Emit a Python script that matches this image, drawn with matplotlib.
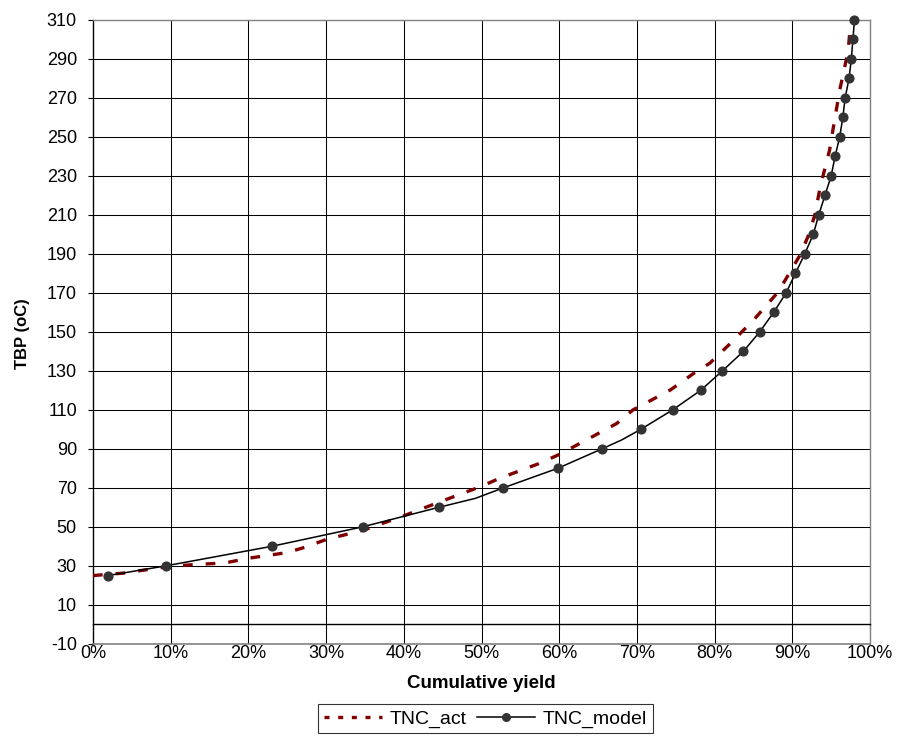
import matplotlib
matplotlib.use("Agg")
import matplotlib.pyplot as plt
from matplotlib.ticker import PercentFormatter
from matplotlib.lines import Line2D

plt.rcParams["font.family"] = ["Liberation Sans", "DejaVu Sans"]
plt.rcParams["axes.unicode_minus"] = False

# TBP curve, measured crude (cumulative yield %, temperature oC)
act_yield = [0, 4.0, 9.4, 12.5, 17.0, 20.2, 25.0, 27.5, 30.0, 34.8, 39.9, 44.7,
             49.8, 52.4, 57.5, 60.1, 64.8, 67.4, 69.5, 74.3, 77.3, 79.4, 81.8,
             85.0, 88.2, 91.0, 92.1, 92.9, 93.6, 94.8, 95.3, 96.1, 96.7, 97.2, 97.4]
act_tbp = [25, 26.3, 29.5, 30.5, 31.5, 34, 36.8, 39.8, 43.5, 48.3, 55.5, 62.9,
           70.5, 75, 82.6, 87.3, 97.4, 103, 110, 120.2, 128.7, 134, 143.2,
           156, 170.6, 189.4, 199.7, 210, 224.5, 243.3, 255.3, 274, 285, 294.6, 304]

# TBP curve, model prediction
model_yield = [1.9, 9.4, 23.0, 34.7, 44.5, 49.2, 52.8, 59.8, 65.5, 68.0, 70.5,
               74.6, 78.2, 81.0, 83.7, 85.8, 87.6, 89.2, 90.4, 91.6, 92.7, 93.4,
               94.2, 95.0, 95.5, 96.1, 96.5, 96.8, 97.3, 97.6, 97.8, 98.0]
model_tbp = [25, 30, 40, 50, 60, 64.6, 70, 80, 90, 94.5, 100,
             110, 120, 130, 140, 150, 160, 170, 180, 190, 200, 210,
             220, 230, 240, 250, 260, 270, 280, 290, 300, 310]
# vertices drawn without a marker
model_plain = [64.6, 94.5]

y_ticks = list(range(-10, 311, 20))
x_ticks = list(range(0, 101, 10))

fig = plt.figure(figsize=(8.97, 7.40), dpi=100)
ax = fig.add_axes([93 / 897, 1 - 643.8 / 740, 777 / 897, 623.8 / 740])

ax.set_xlim(0, 100)
ax.set_ylim(-10, 310)
ax.set_xticks(x_ticks)
ax.set_yticks(y_ticks)
ax.xaxis.set_major_formatter(PercentFormatter(100, decimals=0))

# grid
for xv in x_ticks[1:-1]:
    ax.axvline(xv, color="black", lw=0.75, zorder=1)
for yv in y_ticks[1:-1]:
    ax.axhline(yv, color="black", lw=0.75, zorder=1)

# frame: black value axis, category axis crossing at 0, grey border elsewhere
for s in ("top", "right"):
    ax.spines[s].set_color("#808080")
    ax.spines[s].set_linewidth(1.0)
ax.spines["left"].set_color("black")
ax.spines["left"].set_linewidth(1.0)
ax.spines["bottom"].set_position(("data", 0))
ax.spines["bottom"].set_color("black")
ax.spines["bottom"].set_linewidth(1.0)
ax.axhline(-10, color="#808080", lw=1.2, zorder=3, clip_on=False)

ax.tick_params(axis="y", direction="out", length=3.6, width=0.8, pad=8,
               labelsize=13, colors="black")
ax.tick_params(axis="x", direction="out", length=3.6, width=0.8, pad=11,
               labelsize=13, colors="black")

ax.plot(act_yield, act_tbp, color="#800000", lw=2.4,
        dashes=(2.9, 3.9), zorder=4, clip_on=False)
mark_idx = [i for i, t in enumerate(model_tbp) if t not in model_plain]
ax.plot(model_yield, model_tbp, color="black", lw=1.1, marker="o",
        markersize=6.3, markerfacecolor="#333333", markeredgecolor="#333333",
        markevery=mark_idx, zorder=5, clip_on=False)

fig.text(481.5 / 897, 1 - 684 / 740, "Cumulative yield", ha="center",
         va="center", fontsize=13.5, fontweight="bold")
fig.text(23 / 897, 1 - 334 / 740, "TBP (oC)", ha="center", va="center",
         rotation=90, fontsize=12, fontweight="bold")

handles = [
    Line2D([], [], color="#800000", lw=2.4, dashes=(1.5, 2.6)),
    Line2D([], [], color="black", lw=1.1, marker="o", markersize=5.5,
           markerfacecolor="#333333", markeredgecolor="#333333"),
]
leg = fig.legend(handles, ["TNC_act", "TNC_model"], loc="upper center",
                 bbox_to_anchor=(485.5 / 897, 1 - 704 / 740), ncol=2,
                 fontsize=14, frameon=True, fancybox=False, edgecolor="black",
                 handlelength=3.0, handletextpad=0.4, columnspacing=0.5,
                 borderpad=0.3, borderaxespad=0)
leg.get_frame().set_linewidth(0.8)

fig.savefig("out.png", dpi=100)
